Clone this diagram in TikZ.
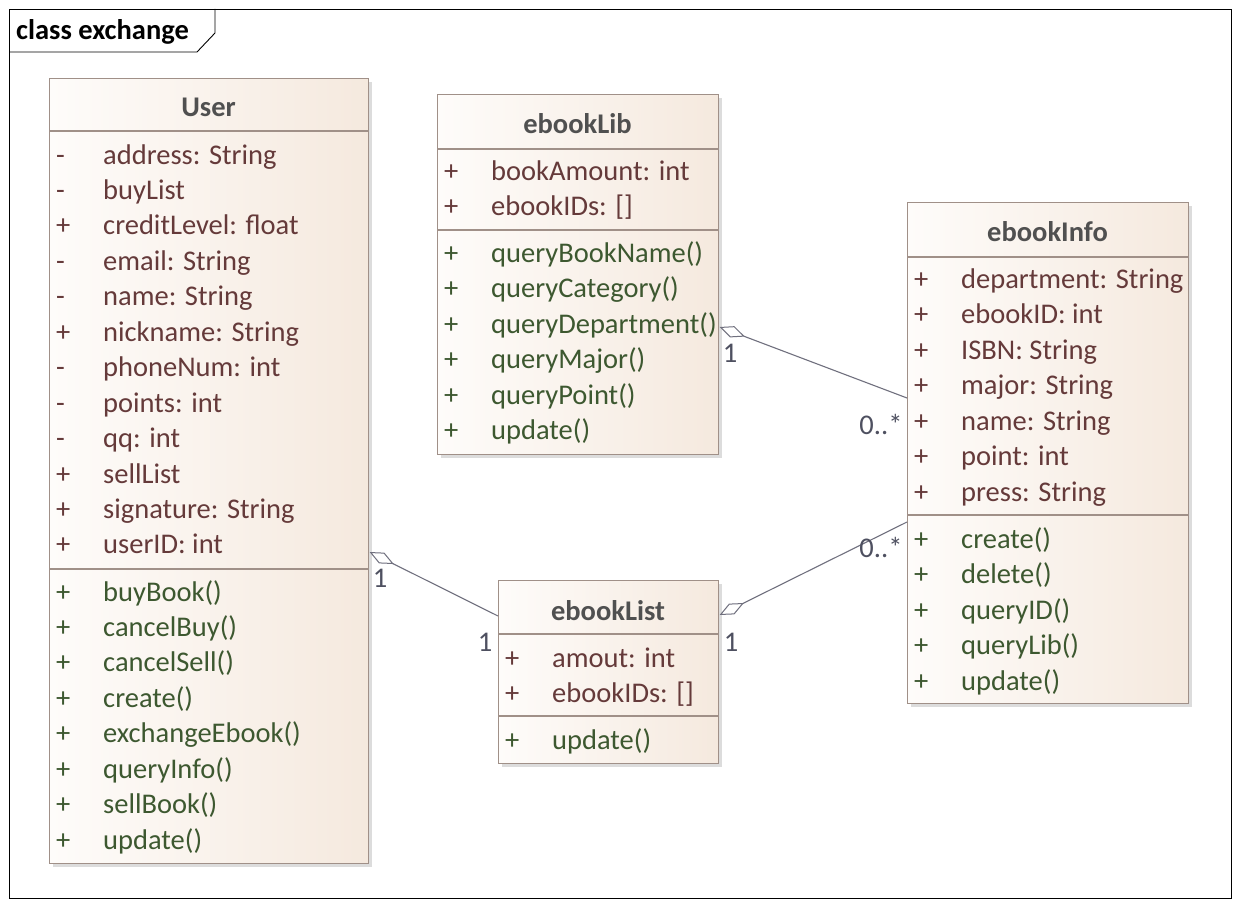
\documentclass[tikz,border=0pt]{standalone}
\usepackage{fontspec}
\setmainfont{Carlito}
\usetikzlibrary{arrows.meta,shadows,calc}
\definecolor{bordc}{HTML}{A09088}
\definecolor{attrc}{HTML}{653A3A}
\definecolor{opc}{HTML}{3D5830}
\definecolor{ttlc}{HTML}{505050}
\definecolor{linkc}{HTML}{70707E}
\definecolor{multc}{HTML}{4E5060}
\definecolor{fillL}{HTML}{FEFCFA}
\definecolor{fillR}{HTML}{F5E9DE}
\begin{document}
\begin{tikzpicture}[x=1pt,y=-1pt,
  every node/.style={font=\fontsize{28.5}{34}\selectfont, inner sep=0pt},
  classbox/.style={draw=bordc, line width=1.1pt, left color=fillL, right color=fillR,
    anchor=north west, inner sep=0pt,
    drop shadow={shadow xshift=3pt, shadow yshift=-3pt, fill=black!30, opacity=0.45}},
  clsttl/.style={font=\fontsize{28.5}{34}\selectfont\bfseries, text=ttlc, anchor=base},
  attrrow/.style={text=attrc, anchor=base west},
  oprow/.style={text=opc, anchor=base west},
  sepline/.style={draw=bordc, line width=1.1pt},
  link/.style={draw=linkc, line width=1.1pt},
  aggtip/.style={{Diamond[length=27pt,width=12pt,fill=white,line width=1pt]}-},
  mult/.style={text=multc, anchor=center},
  frameline/.style={draw=black, line width=0.9pt}
]
\useasboundingbox (0,0) rectangle (1240,907);
\fill[white] (0,0) rectangle (1240,907);
% frame
\draw[frameline] (9,9) rectangle (1231,898);
\draw[frameline] (9,52) -- (197,52) -- (215,33) -- (215,9);
\node[anchor=base west, font=\fontsize{28.5}{34}\selectfont\bfseries] (frameTitle) at (16,40) {class exchange};

% ---------- User ----------
\node[classbox, minimum width=319pt, minimum height=785pt] (User) at (49,78) {};
\node[clsttl] (UserT) at (208.5,117) {User};
\draw[sepline] (49,131) -- (368,131);
\draw[sepline] (49,569) -- (368,569);
\foreach \v/\t [count=\i from 0] in {-/address: String, -/buyList, +/creditLevel: float, -/email: String, -/name: String, +/nickname: String, -/phoneNum: int, -/points: int, -/qq: int, +/sellList, +/signature: String, +/userID: int}{
  \node[attrrow] (UA\i s) at (56,164+35.45*\i) {\v};
  \node[attrrow] (UA\i) at (103,164+35.45*\i) {\t};
}
\foreach \t [count=\i from 0] in {buyBook(), cancelBuy(), cancelSell(), create(), exchangeEbook(), queryInfo(), sellBook(), update()}{
  \node[oprow] (UO\i s) at (56,601+35.45*\i) {+};
  \node[oprow] (UO\i) at (103,601+35.45*\i) {\t};
}

% ---------- ebookLib ----------
\node[classbox, minimum width=281pt, minimum height=360pt] (Lib) at (437,94) {};
\node[clsttl] (LibT) at (577.5,133) {ebookLib};
\draw[sepline] (437,149) -- (718,149);
\draw[sepline] (437,230) -- (718,230);
\foreach \t [count=\i from 0] in {bookAmount: int, ebookIDs: []}{
  \node[attrrow] (LA\i s) at (444,180+35.5*\i) {+};
  \node[attrrow] (LA\i) at (491,180+35.5*\i) {\t};
}
\foreach \t [count=\i from 0] in {queryBookName(), queryCategory(), queryDepartment(), queryMajor(), queryPoint(), update()}{
  \node[oprow] (LO\i s) at (444,262+35.5*\i) {+};
  \node[oprow] (LO\i) at (491,262+35.5*\i) {\t};
}

% ---------- ebookInfo ----------
\node[classbox, minimum width=281pt, minimum height=501pt] (Info) at (907,202) {};
\node[clsttl] (InfoT) at (1047.5,241) {ebookInfo};
\draw[sepline] (907,257) -- (1188,257);
\draw[sepline] (907,515) -- (1188,515);
\foreach \t [count=\i from 0] in {department: String, ebookID: int, ISBN: String, major: String, name: String, point: int, press: String}{
  \node[attrrow] (IA\i s) at (914,288+35.5*\i) {+};
  \node[attrrow] (IA\i) at (961,288+35.5*\i) {\t};
}
\foreach \t [count=\i from 0] in {create(), delete(), queryID(), queryLib(), update()}{
  \node[oprow] (IO\i s) at (914,548+35.5*\i) {+};
  \node[oprow] (IO\i) at (961,548+35.5*\i) {\t};
}

% ---------- ebookList ----------
\node[classbox, minimum width=220pt, minimum height=183pt] (List) at (498,580) {};
\node[clsttl] (ListT) at (608,620) {ebookList};
\draw[sepline] (498,634) -- (718,634);
\draw[sepline] (498,716) -- (718,716);
\foreach \t [count=\i from 0] in {amout: int, ebookIDs: []}{
  \node[attrrow] (TA\i s) at (505,667+35.5*\i) {+};
  \node[attrrow] (TA\i) at (552,667+35.5*\i) {\t};
}
\node[oprow] (TO0s) at (505,749) {+};
\node[oprow] (TO0) at (552,749) {update()};

% ---------- connectors ----------
\coordinate (UserR) at ($(User.north east)+(0.5,474)$);
\coordinate (ListL) at ($(List.north west)+(0,36)$);
\coordinate (LibR)  at ($(Lib.north east)+(0.5,233)$);
\coordinate (InfoL1) at ($(Info.north west)+(0,196)$);
\coordinate (ListR) at ($(List.north east)+(0.5,35)$);
\coordinate (InfoL2) at ($(Info.north west)+(0,320)$);

\draw[link, aggtip] (UserR) -- (ListL);
\draw[link, aggtip] (LibR) -- (InfoL1);
\draw[link, aggtip] (ListR) -- (InfoL2);

\node[mult] (m1) at (380,578) {1};
\node[mult] (m2) at (485,642) {1};
\node[mult] (m3) at (730,353) {1};
\node[mult] (m4) at (881,424) {0..*};
\node[mult] (m5) at (881,547) {0..*};
\node[mult] (m6) at (731,642) {1};
\end{tikzpicture}
\end{document}
